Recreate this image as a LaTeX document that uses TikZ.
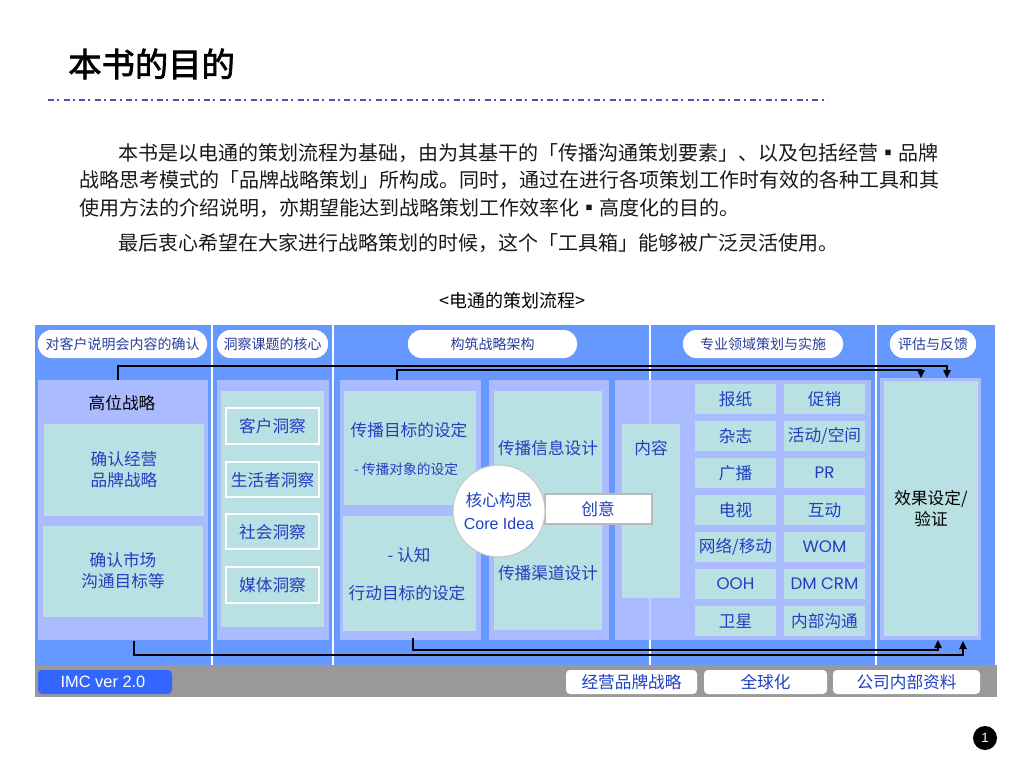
\documentclass[tikz,border=0pt]{standalone}
\usepackage{fontspec}
\setmainfont{Noto Sans CJK SC}
\newfontfamily\latinfont{Liberation Sans}
\newfontfamily\geofont{Poppins}
\newfontfamily\titlefont{Noto Sans CJK SC}[FakeBold=2]
\usetikzlibrary{arrows.meta, positioning}
\definecolor{bgblue}{HTML}{6699FF}
\definecolor{lavender}{HTML}{AABBFF}
\definecolor{tealbox}{HTML}{B9E0E2}
\definecolor{txtblue}{HTML}{2040C0}
\definecolor{hdtext}{HTML}{2A3C9C}
\definecolor{bargray}{HTML}{999999}
\definecolor{imcblue}{HTML}{3366FF}
\definecolor{dashblue}{HTML}{5050A8}
\tikzset{
	bodytext/.style={anchor=west, inner sep=0pt, font=\fontsize{15}{18}\selectfont, text=black!90}
}
\tikzset{
	headtext/.style={font=\fontsize{10.5}{12}\selectfont, text=hdtext, inner sep=1pt},
	pillbox/.style={fill=white, draw=none, rounded corners=10pt}
}
\tikzset{
	paneltext/.style={font=\fontsize{12.5}{15.75}\selectfont, text=txtblue, align=center, inner sep=1pt},
	smalltext/.style={font=\fontsize{10.3}{12}\selectfont, text=txtblue, inner sep=1pt},
	darktext/.style={font=\fontsize{12.5}{15.75}\selectfont, text=black, align=center, inner sep=1pt},
	panel/.style={fill=lavender, draw=none},
	tealfill/.style={fill=tealbox, draw=none},
	insight/.style={fill=tealbox, draw=white, line width=1.5pt},
	sepline/.style={white, line width=1.8pt},
	flowline/.style={black, line width=1.1pt},
	barbox/.style={fill=white, draw=none, rounded corners=3pt}
}
\begin{document}
\begin{tikzpicture}[x=0.75pt, y=-0.75pt, >={Triangle[length=6pt,width=5.5pt]}]
      \useasboundingbox (0,0) rectangle (1024,768);
      % title and rule
      \node[anchor=west, inner sep=0pt, font=\titlefont\fontsize{25}{30}\selectfont] (title) at (68,64) {本书的目的};
      \draw[dashblue, line width=1.6pt, dash pattern=on 4.5pt off 2.4pt on 1.5pt off 3.3pt] (48,100) -- (828,100);
      % text of the page
      \node[bodytext] (line1) at (118,153) {本书是以电通的策划流程为基础，由为其基干的「传播沟通策划要素」、以及包括经营▪品牌};
      \node[bodytext] (line2) at (79,180) {战略思考模式的「品牌战略策划」所构成。同时，通过在进行各项策划工作时有效的各种工具和其};
      \node[bodytext] (line3) at (79,208) {使用方法的介绍说明，亦期望能达到战略策划工作效率化▪高度化的目的。};
      \node[bodytext] (line4) at (118,243) {最后衷心希望在大家进行战略策划的时候，这个「工具箱」能够被广泛灵活使用。};
      \node[font=\fontsize{13.5}{16}\selectfont] (caption) at (512,301) {<电通的策划流程>};
      % background and separators
      \fill[bgblue] (35,325) rectangle (995,665);
      \fill[bargray] (35,665) rectangle (997,697);
      \foreach \sx in {212,333,650,876}
        \draw[sepline] (\sx,325) -- (\sx,665);
      % header labels
      \draw[pillbox] (38,330) rectangle (207,358);
      \node[headtext] (hdbrief) at (122.5,344) {对客户说明会内容的确认};
      \draw[pillbox] (217,330) rectangle (328,358);
      \node[headtext] (hdinsight) at (272.5,344) {洞察课题的核心};
      \draw[pillbox] (408,330) rectangle (577,358);
      \node[headtext] (hdframe) at (492.5,344) {构筑战略架构};
      \draw[pillbox] (683,330) rectangle (843,358);
      \node[headtext] (hdfield) at (763,344) {专业领域策划与实施};
      \draw[pillbox] (890,330) rectangle (976,358);
      \node[headtext] (hdeval) at (933,344) {评估与反馈};
      % column 1
      \draw[panel] (38,380) rectangle (208,640);
      \node[darktext] (upper) at (122,403) {高位战略};
      \draw[tealfill] (44,424) rectangle (204,516);
      \node[paneltext] (brand) at (124,470) {确认经营\\品牌战略};
      \draw[tealfill] (43,526) rectangle (203,617);
      \node[paneltext] (market) at (123,571) {确认市场\\沟通目标等};
      % column 2
      \draw[panel] (217,380) rectangle (329,640);
      \draw[tealfill] (221,391) rectangle (324,627);
      \draw[insight] (226,408) rectangle (319,444);
      \node[paneltext] (client) at (272.5,426) {客户洞察};
      \draw[insight] (226,462) rectangle (319,497);
      \node[paneltext] (consumer) at (272.5,480) {生活者洞察};
      \draw[insight] (226,514) rectangle (319,549);
      \node[paneltext] (society) at (272.5,532) {社会洞察};
      \draw[insight] (226,567) rectangle (319,603);
      \node[paneltext] (mediains) at (272.5,585) {媒体洞察};
      % column 3
      \draw[panel] (340,380) rectangle (481,640);
      \draw[tealfill] (344,391) rectangle (476,505);
      \node[paneltext] (goal) at (409,430) {传播目标的设定};
      \node[smalltext] (target) at (406,469) {- 传播对象的设定};
      \draw[tealfill] (343,516) rectangle (476,631);
      \node[paneltext] (aware) at (409,555) {- 认知};
      \node[paneltext] (action) at (407,593) {行动目标的设定};
      \draw[panel] (489,380) rectangle (609,640);
      \draw[tealfill] (494,391) rectangle (602,630);
      \node[paneltext] (message) at (548,448) {传播信息设计};
      \node[paneltext] (channel) at (548,573) {传播渠道设计};
      % column 4
      \draw[panel] (615,380) rectangle (871,640);
      \draw[sepline, opacity=0.3] (650,380) -- (650,640);
      \draw[tealfill] (622,424) rectangle (680,598);
      \node[paneltext] (content) at (651,448) {内容};
      \foreach \lbl [count=\i] in {报纸,杂志,广播,电视,网络/移动,{\geofont OOH},卫星} {
        \pgfmathsetmacro\yc{399+(\i-1)*37}
        \draw[tealfill] (695,\yc-15) rectangle (776,\yc+15);
        \node[paneltext] (med\i) at (735.5,\yc) {\lbl};
      }
      \foreach \lbl [count=\i] in {促销,活动/空间,{\geofont PR},互动,{\geofont WOM},{\geofont DM CRM},内部沟通} {
        \pgfmathsetmacro\yc{399+(\i-1)*37}
        \draw[tealfill] (784,\yc-15) rectangle (865,\yc+15);
        \node[paneltext] (act\i) at (824.5,\yc) {\lbl};
      }
      % core idea
      \draw[fill=white, draw=gray!55, line width=1.5pt] (545,494) rectangle (652,524);
      \node[paneltext] (idea) at (598,509) {创意};
      \node[circle, fill=white, draw=gray!45, line width=0.8pt, minimum size=69pt, inner sep=0pt,
            paneltext, font=\fontsize{12.5}{17}\selectfont] (core) at (499,511) {核心构思\\{\latinfont\fontsize{12}{15}\selectfont Core Idea}};
      % column 5
      \draw[panel] (880,378) rectangle (981,640);
      \draw[tealfill] (884,381) rectangle (978,636);
      \node[darktext] (effect) at (931,509) {效果设定/\\验证};
      % feedback lines
      \coordinate (srcA) at (118,380);
      \coordinate (dstA) at (947,378);
      \coordinate (srcB) at (397,380);
      \coordinate (dstB) at (921,378);
      \coordinate (srcC) at (134,641);
      \coordinate (dstC) at (963,641);
      \coordinate (srcD) at (413,638);
      \coordinate (dstD) at (938,640);
      \draw[flowline, ->] (srcA) -- ++(0,-14) -| (dstA);
      \draw[flowline, ->] (srcB) -- ++(0,-10) -| (dstB);
      \draw[flowline, ->] (srcC) -- ++(0,14) -| (dstC);
      \draw[flowline, ->] (srcD) -- ++(0,12) -| (dstD);
      % bottom bar
      \draw[fill=imcblue, draw=none, rounded corners=3pt] (38,670) rectangle (172,694);
      \node[text=white, font=\latinfont\fontsize{12.3}{14}\selectfont] (imc) at (103,682) {IMC ver 2.0};
      \draw[barbox] (566,670) rectangle (697,694);
      \node[paneltext] (bbrand) at (631.5,682) {经营品牌战略};
      \draw[barbox] (704,670) rectangle (827,694);
      \node[paneltext] (global) at (765.5,682) {全球化};
      \draw[barbox] (833,670) rectangle (980,694);
      \node[paneltext] (internal) at (906.5,682) {公司内部资料};
      % page number
      \node[circle, fill=black, text=white, minimum size=18pt, inner sep=0pt,
            font=\latinfont\fontsize{10}{11}\selectfont] (pgno) at (985,738) {1};
    \end{tikzpicture}
\end{document}
